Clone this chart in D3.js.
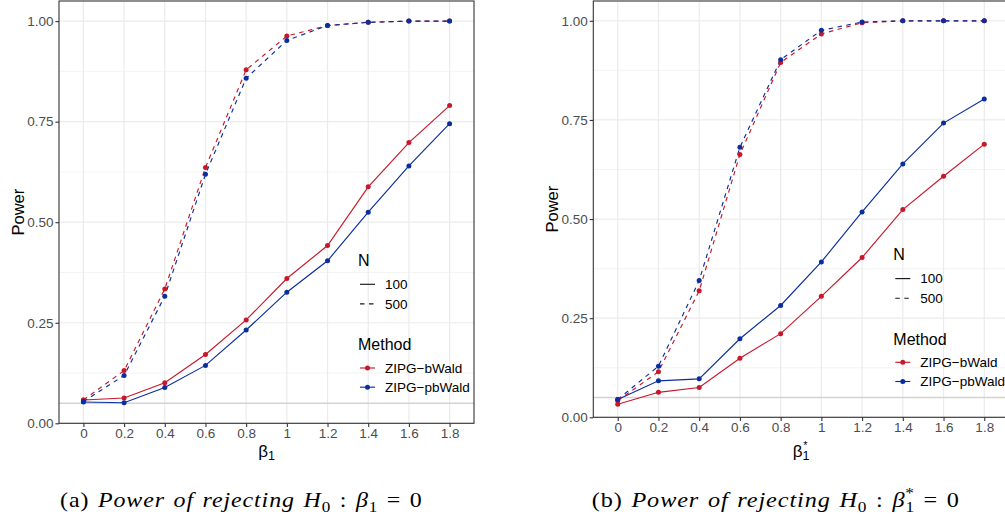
<!DOCTYPE html>
<html>
<head>
<meta charset="utf-8">
<script src="https://cdn.jsdelivr.net/npm/d3@7"></script>
<style>
  html, body { margin: 0; padding: 0; background: #ffffff; }
  svg { display: block; }
</style>
</head>
<body>
<svg id="chart" width="1005" height="521"></svg>
<script>
// ---- data -------------------------------------------------------------
const betaLevels = ["0", "0.2", "0.4", "0.6", "0.8", "1", "1.2", "1.4", "1.6", "1.8"];
const methods = ["ZIPG−bWald", "ZIPG−pbWald"];
const sampleSizes = ["100", "500"];
const yTicks = [0, 0.25, 0.5, 0.75, 1];
const yTickLabels = ["0.00", "0.25", "0.50", "0.75", "1.00"];
const yMinorTicks = [0.125, 0.375, 0.625, 0.875];
const nominalLevel = 0.05;

// Panel (a): power of rejecting H0: beta1 = 0
const powerA_bWald_100  = [0.058, 0.063, 0.101, 0.171, 0.257, 0.360, 0.442, 0.588, 0.698, 0.790];
const powerA_pbWald_100 = [0.053, 0.051, 0.089, 0.144, 0.232, 0.326, 0.404, 0.525, 0.640, 0.745];
const powerA_bWald_500  = [0.058, 0.131, 0.334, 0.636, 0.879, 0.963, 0.989, 0.997, 1.000, 1.000];
const powerA_pbWald_500 = [0.054, 0.119, 0.316, 0.619, 0.858, 0.952, 0.989, 0.997, 1.000, 1.000];

// Panel (b): power of rejecting H0: beta1* = 0
const powerB_bWald_100  = [0.033, 0.063, 0.075, 0.149, 0.211, 0.305, 0.403, 0.524, 0.608, 0.689];
const powerB_pbWald_100 = [0.045, 0.092, 0.097, 0.198, 0.282, 0.392, 0.518, 0.639, 0.742, 0.803];
const powerB_bWald_500  = [0.042, 0.115, 0.319, 0.663, 0.895, 0.967, 0.995, 1.000, 1.000, 1.000];
const powerB_pbWald_500 = [0.045, 0.129, 0.345, 0.681, 0.902, 0.976, 0.997, 1.000, 1.000, 1.000];

// ---- styling ----------------------------------------------------------
const methodColor = d3.scaleOrdinal().domain(methods).range(["#C8172B", "#0B2E9E"]);
const sizeDash = d3.scaleOrdinal().domain(sampleSizes).range([null, "4.5,4.5"]);
const SANS = "'Liberation Sans', Arial, Helvetica, sans-serif";
const NARROW = "'Liberation Sans Narrow', 'Liberation Sans', sans-serif";
const SERIF = "'Liberation Serif'";

const svg = d3.select("#chart");
svg.append("rect").attr("width", 1005).attr("height", 521).attr("fill", "#ffffff");

function buildSeries(bw100, pbw100, bw500, pbw500) {
  return [
    { method: methods[0], n: sampleSizes[0], values: bw100 },
    { method: methods[1], n: sampleSizes[0], values: pbw100 },
    { method: methods[0], n: sampleSizes[1], values: bw500 },
    { method: methods[1], n: sampleSizes[1], values: pbw500 }
  ];
}

const panels = [
  {
    key: "a",
    box: { left: 59, right: 474, top: 1, bottom: 423.3 },
    series: buildSeries(powerA_bWald_100, powerA_pbWald_100, powerA_bWald_500, powerA_pbWald_500),
    yTitleX: 24,
    legend: { x: 358, top: 260 },
    xTitle: "beta1",
    caption: { start: 60, end: 423, baseline: 507 }
  },
  {
    key: "b",
    box: { left: 593.3, right: 1008.7, top: 1, bottom: 417.3 },
    series: buildSeries(powerB_bWald_100, powerB_pbWald_100, powerB_bWald_500, powerB_pbWald_500),
    yTitleX: 558,
    legend: { x: 893.3, top: 254.3 },
    xTitle: "beta1star",
    caption: { start: 591.7, end: 960, baseline: 507 }
  }
];

panels.forEach(p => {
  const b = p.box;
  const x = d3.scalePoint().domain(betaLevels).range([b.left, b.right]).padding(0.6);
  const y = d3.scaleLinear().domain([0, 1.05]).range([b.bottom, b.top]);
  const g = svg.append("g").attr("class", "panel-" + p.key);

  // grid
  g.append("g").selectAll("line").data(yMinorTicks).join("line")
    .attr("x1", b.left).attr("x2", b.right)
    .attr("y1", d => y(d)).attr("y2", d => y(d))
    .attr("stroke", "#EFEFEF").attr("stroke-width", 0.7);
  g.append("g").selectAll("line").data(yTicks).join("line")
    .attr("x1", b.left).attr("x2", b.right)
    .attr("y1", d => y(d)).attr("y2", d => y(d))
    .attr("stroke", "#EBEBEB").attr("stroke-width", 1.2);
  g.append("g").selectAll("line").data(betaLevels).join("line")
    .attr("x1", d => x(d)).attr("x2", d => x(d))
    .attr("y1", b.top).attr("y2", b.bottom)
    .attr("stroke", "#EBEBEB").attr("stroke-width", 1.2);

  // nominal level reference
  g.append("line")
    .attr("x1", b.left).attr("x2", b.right)
    .attr("y1", y(nominalLevel)).attr("y2", y(nominalLevel))
    .attr("stroke", "#D3D3D3").attr("stroke-width", 1.6);

  // series lines and points
  const line = d3.line().x((d, i) => x(betaLevels[i])).y(d => y(d));
  p.series.forEach(s => {
    g.append("path")
      .attr("d", line(s.values))
      .attr("fill", "none")
      .attr("stroke", methodColor(s.method))
      .attr("stroke-width", 1.15)
      .attr("stroke-dasharray", sizeDash(s.n));
  });
  p.series.forEach(s => {
    g.append("g").selectAll("circle").data(s.values).join("circle")
      .attr("cx", (d, i) => x(betaLevels[i]))
      .attr("cy", d => y(d))
      .attr("r", 2.5)
      .attr("fill", methodColor(s.method));
  });

  // border
  g.append("rect")
    .attr("x", b.left).attr("y", b.top)
    .attr("width", b.right - b.left).attr("height", b.bottom - b.top)
    .attr("fill", "none").attr("stroke", "#333333").attr("stroke-width", 1.1);

  // axes
  const xAxis = g.append("g").attr("transform", `translate(0,${b.bottom})`)
    .call(d3.axisBottom(x).tickSize(3.6).tickPadding(1.4));
  const yAxis = g.append("g").attr("transform", `translate(${b.left},0)`)
    .call(d3.axisLeft(y).tickValues(yTicks).tickFormat((d, i) => yTickLabels[i]).tickSize(3.6).tickPadding(2));
  [xAxis, yAxis].forEach(ax => {
    ax.select(".domain").remove();
    ax.selectAll(".tick line").attr("stroke", "#333333").attr("stroke-width", 1.1);
    ax.selectAll(".tick text").attr("fill", "#4D4D4D").style("font-family", SANS).style("font-size", "13.5px");
  });

  // y axis title
  svg.append("text")
    .attr("transform", `translate(${p.yTitleX},${(b.top + b.bottom) / 2}) rotate(-90)`)
    .attr("text-anchor", "middle")
    .style("font-family", SANS).style("font-size", "16.5px").attr("fill", "#000")
    .text("Power");

  // x axis title
  const xt = svg.append("text")
    .attr("x", (b.left + b.right) / 2).attr("y", 456.6)
    .attr("text-anchor", "middle")
    .style("font-family", NARROW).style("font-size", "17px").attr("fill", "#000");
  xt.append("tspan").text("β");
  xt.append("tspan").attr("dy", 3.6).style("font-size", "12.5px").text("1");
  if (p.xTitle === "beta1star") {
    xt.append("tspan").attr("dx", -6).attr("dy", -11).style("font-size", "11px").text("*");
  }

  // legend
  const L = p.legend;
  const lg = svg.append("g").style("font-family", SANS);
  const off = [0, 24.3, 43.9, 84.6, 108, 127.2];
  lg.append("text").attr("x", L.x).attr("y", L.top + off[0]).attr("dy", "0.36em")
    .style("font-size", "16px").attr("fill", "#000").text("N");
  sampleSizes.forEach((n, i) => {
    const cy = L.top + off[1 + i];
    lg.append("line").attr("x1", L.x + 2).attr("x2", L.x + 17).attr("y1", cy).attr("y2", cy)
      .attr("stroke", "#1A1A1A").attr("stroke-width", 1.15).attr("stroke-dasharray", sizeDash(n));
    lg.append("text").attr("x", L.x + 27).attr("y", cy).attr("dy", "0.36em")
      .style("font-size", "13.5px").attr("fill", "#000").text(n);
  });
  lg.append("text").attr("x", L.x).attr("y", L.top + off[3]).attr("dy", "0.36em")
    .style("font-size", "16px").attr("fill", "#000").text("Method");
  methods.forEach((m, i) => {
    const cy = L.top + off[4 + i];
    lg.append("line").attr("x1", L.x + 2).attr("x2", L.x + 17).attr("y1", cy).attr("y2", cy)
      .attr("stroke", methodColor(m)).attr("stroke-width", 1.15);
    lg.append("circle").attr("cx", L.x + 9.5).attr("cy", cy).attr("r", 2.5).attr("fill", methodColor(m));
    lg.append("text").attr("x", L.x + 27).attr("y", cy).attr("dy", "0.36em")
      .style("font-size", "13.5px").attr("fill", "#000").text(m);
  });

  // caption under the panel: roman label, italic phrase, then the hypothesis
  const c = p.caption;
  const cap = svg.append("text").attr("x", 0).attr("y", 0)
    .style("font-family", SERIF).style("font-size", "21px")
    .style("letter-spacing", "0.8px").style("word-spacing", "1.5px")
    .attr("fill", "#000");
  cap.append("tspan").text(p.key === "a" ? "(a) " : "(b) ");
  cap.append("tspan").style("font-style", "italic").text("Power of rejecting ");
  cap.append("tspan").style("font-style", "italic").text("H");
  cap.append("tspan").attr("dy", 5).style("font-size", "15px").text("0");
  cap.append("tspan").attr("dy", -5).text("  :  ");
  cap.append("tspan").style("font-style", "italic").text("β");
  if (p.key === "a") {
    cap.append("tspan").attr("dy", 5).style("font-size", "15px").text("1");
    cap.append("tspan").attr("dy", -5).text("  =  0");
  } else {
    cap.append("tspan").attr("dy", 5).style("font-size", "15px").text("1");
    cap.append("tspan").attr("dx", -8.5).attr("dy", -14).style("font-size", "15px").text("*");
    cap.append("tspan").attr("dy", 9).text("  =  0");
  }
  const w = cap.node().getBBox().width;
  const target = c.end - c.start;
  cap.attr("transform", `translate(${c.start},${c.baseline}) scale(${target / w},1)`);
});
</script>
</body>
</html>
